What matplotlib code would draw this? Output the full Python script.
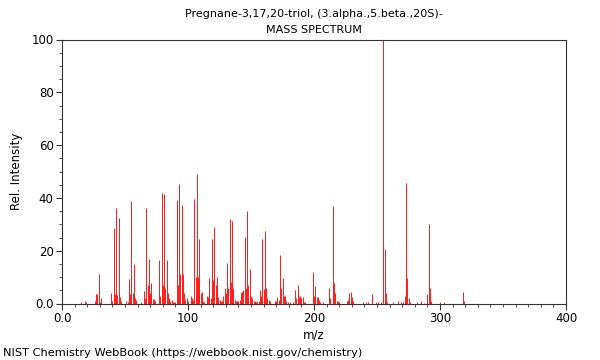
import matplotlib

matplotlib.use("Agg")
import matplotlib.pyplot as plt
from matplotlib.ticker import MultipleLocator, FixedLocator

title = "Pregnane-3,17,20-triol, (3.alpha.,5.beta.,20S)-"
subtitle = "MASS SPECTRUM"
footer = "NIST Chemistry WebBook (https://webbook.nist.gov/chemistry)"

# m/z and relative intensity
mz = [
    15, 18, 19, 26, 27, 28, 29, 30, 31,
    39, 40, 41, 42, 43, 44, 45, 46, 47,
    51, 52, 53, 54, 55, 56, 57, 58, 59,
    63, 65, 66, 67, 68, 69, 70, 71, 72, 73, 74,
    77, 78, 79, 80, 81, 82, 83, 84, 85, 86, 87, 88, 89, 90,
    91, 92, 93, 94, 95, 96, 97, 98, 99, 100, 102, 103, 104,
    105, 106, 107, 108, 109, 110, 111, 112, 113, 115, 116,
    117, 118, 119, 120, 121, 122, 123, 124, 125, 126, 127,
    128, 129, 130, 131, 132, 133, 134, 135, 136, 137, 138, 139, 140,
    141, 142, 143, 144, 145, 146, 147, 148, 149, 150, 151, 152, 153,
    154, 155, 156, 157, 158, 159, 160, 161, 162, 163, 164, 165,
    169, 170, 171, 172, 173, 174, 175, 176, 177, 178, 179, 181, 183,
    185, 186, 187, 188, 189, 190, 191, 192, 193,
    199, 200, 201, 202, 203, 204, 205, 207,
    212, 213, 215, 216, 217, 218, 219, 220,
    226, 227, 228, 229, 230, 231, 239, 241, 243, 246, 249, 251, 253,
    255, 256, 257, 258, 263, 267, 269, 271, 272, 273, 274, 275, 276,
    282, 285, 287, 290, 291, 292, 293, 300, 303, 318, 319,
]
intensity = [
    0.6, 1.0, 0.4, 1.0, 3.5, 3.5, 11.0, 0.5, 2.0,
    4.0, 1.0, 28.5, 3.5, 36.2, 3.2, 32.4, 2.5, 0.8,
    0.8, 0.5, 9.2, 3.5, 38.9, 4.0, 14.8, 2.0, 1.5,
    0.5, 4.8, 2.0, 36.2, 7.0, 16.7, 4.0, 7.6, 1.8, 1.6, 1.0,
    16.4, 3.0, 42.0, 7.0, 41.4, 6.0, 16.4, 4.0, 2.0, 1.0, 1.2, 0.5, 0.4, 0.5,
    39.1, 7.0, 45.2, 11.0, 37.2, 11.0, 4.0, 1.5, 2.0, 1.0, 3.0, 2.0, 1.5,
    39.5, 10.0, 49.0, 10.0, 24.4, 4.0, 4.4, 1.0, 0.5, 3.0, 2.5,
    9.5, 2.0, 24.6, 9.0, 28.8, 7.0, 10.0, 2.5, 1.5, 1.0, 1.0,
    3.0, 5.7, 4.0, 15.5, 6.0, 32.0, 8.0, 31.3, 6.0, 1.5, 1.0, 0.8, 0.8,
    1.5, 4.5, 4.5, 5.0, 25.3, 6.0, 35.0, 7.0, 13.0, 3.0, 2.0, 1.0, 0.8,
    0.5, 1.0, 0.8, 5.0, 3.0, 24.6, 5.5, 27.3, 6.0, 2.0, 1.5, 1.0,
    1.0, 1.0, 2.5, 1.5, 18.3, 6.0, 9.5, 3.0, 3.0, 1.0, 0.5, 0.5, 0.5,
    5.0, 2.0, 7.0, 2.5, 3.0, 2.0, 2.5, 0.5, 0.5,
    12.0, 3.0, 6.7, 2.5, 2.5, 1.5, 0.5, 0.5,
    6.0, 2.0, 37.0, 7.6, 4.0, 1.0, 0.8, 0.5,
    0.8, 1.5, 3.8, 4.3, 2.5, 0.8, 0.7, 0.7, 0.7, 3.5, 0.5, 0.5, 0.5,
    100.0, 20.6, 4.0, 0.5, 0.5, 1.0, 0.5, 0.5, 3.0, 45.5, 9.8, 2.0, 0.5,
    0.7, 1.0, 0.3, 3.5, 30.0, 6.0, 0.8, 0.7, 0.5, 4.5, 1.0,
]

x_ticks = [0, 100, 200, 300, 400]
x_tick_labels = ["0.0", "100", "200", "300", "400"]
y_ticks = [0, 20, 40, 60, 80, 100]
y_tick_labels = ["0.0", "20", "40", "60", "80", "100"]

fig = plt.figure(figsize=(6, 3.6), dpi=100)
ax = fig.add_axes([62 / 600, 56.5 / 360, 504 / 600, 264 / 360])

ax.vlines(mz, 0, intensity, colors="#ff2020", linewidth=0.72)

ax.set_xlim(0, 400)
ax.set_ylim(0, 100)
ax.xaxis.set_major_locator(FixedLocator(x_ticks))
ax.set_xticklabels(x_tick_labels)
ax.yaxis.set_major_locator(FixedLocator(y_ticks))
ax.set_yticklabels(y_tick_labels)
ax.xaxis.set_minor_locator(MultipleLocator(10))
ax.yaxis.set_minor_locator(MultipleLocator(5))

for side in ["left", "right", "top", "bottom"]:
    ax.spines[side].set_color("#333333")
    ax.spines[side].set_linewidth(0.8)
ax.tick_params(which="major", direction="out", length=4, width=0.8,
               color="#333333", labelsize=8.5, pad=2)
ax.tick_params(which="minor", direction="out", length=2.5, width=0.6,
               color="#333333")

ax.set_xlabel("m/z", fontsize=8.5, labelpad=3)
ax.set_ylabel("Rel. Intensity", fontsize=8.5, labelpad=6)

fig.text(314 / 600, 1 - 14 / 360, title, ha="center", va="center", fontsize=8)
fig.text(314 / 600, 1 - 30 / 360, subtitle, ha="center", va="center", fontsize=8)
fig.text(3 / 600, 1 - 353 / 360, footer, ha="left", va="center", fontsize=8.2)

fig.savefig("out.png", dpi=100)
plt.close(fig)
